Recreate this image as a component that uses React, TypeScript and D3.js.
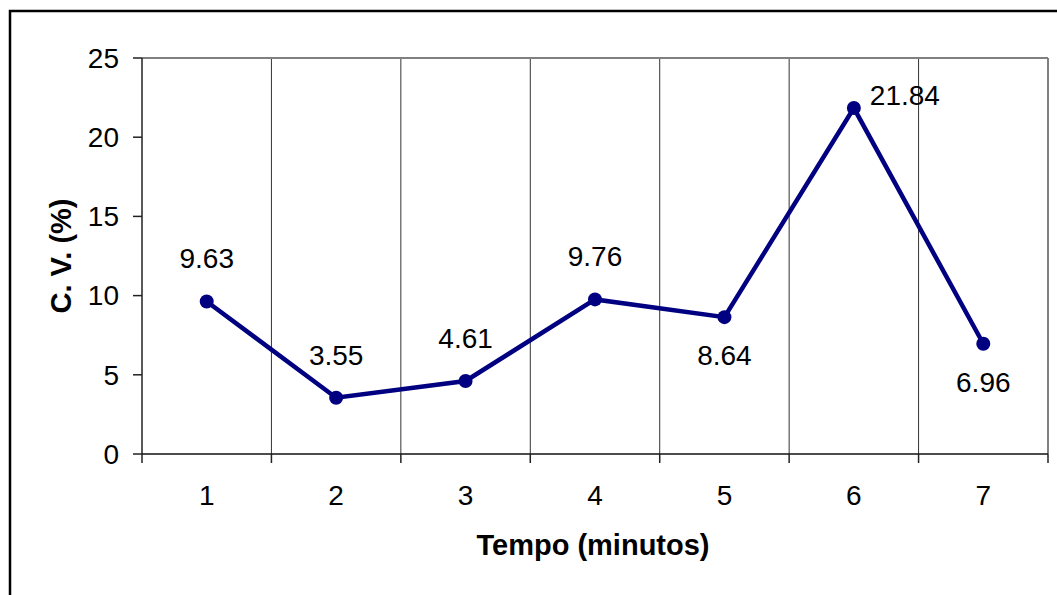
import { useEffect, useRef } from 'react';
import * as d3 from 'd3';

// dados
const minutos = ['1', '2', '3', '4', '5', '6', '7'];
const cv = [9.63, 3.55, 4.61, 9.76, 8.64, 21.84, 6.96];
const labelPos = ['above', 'above', 'above', 'above', 'below', 'right', 'below'];
const yTicks = [0, 5, 10, 15, 20, 25];

const width = 1057;
const height = 595;
const margin = { top: 58, right: 9, bottom: 141, left: 142 };
const FONT = 'Arial, "Liberation Sans", sans-serif';

export default function App() {
  const svgRef = useRef<SVGSVGElement>(null);

  useEffect(() => {
    if (!svgRef.current) return;
    const svg = d3.select(svgRef.current);
    svg.selectAll('*').remove();

    const innerW = width - margin.left - margin.right;
    const innerH = height - margin.top - margin.bottom;

    const x = d3.scaleBand().domain(minutos).range([0, innerW]).padding(0);
    const y = d3.scaleLinear().domain([0, 25]).range([innerH, 0]);

    // moldura externa (continua fora da imagem)
    svg.append('rect')
      .attr('x', 10).attr('y', 11)
      .attr('width', 1200).attr('height', 800)
      .attr('fill', '#fff')
      .attr('stroke', '#000')
      .attr('stroke-width', 2.5);

    const g = svg.append('g').attr('transform', `translate(${margin.left},${margin.top})`);

    // linhas de grade verticais nos limites das categorias
    minutos.slice(1).forEach(c => {
      g.append('line')
        .attr('x1', x(c)!).attr('x2', x(c)!)
        .attr('y1', 0).attr('y2', innerH)
        .attr('stroke', '#333').attr('stroke-width', 1);
    });

    // borda da área de plotagem (topo e direita)
    g.append('line')
      .attr('x1', 0).attr('x2', innerW).attr('y1', 0).attr('y2', 0)
      .attr('stroke', '#808080').attr('stroke-width', 2);
    g.append('line')
      .attr('x1', innerW).attr('x2', innerW).attr('y1', 0).attr('y2', innerH)
      .attr('stroke', '#808080').attr('stroke-width', 2);

    // eixo Y
    g.append('line')
      .attr('x1', 0).attr('x2', 0).attr('y1', 0).attr('y2', innerH + 9)
      .attr('stroke', '#222').attr('stroke-width', 1.5);
    yTicks.forEach(t => {
      g.append('line')
        .attr('x1', -9).attr('x2', 0).attr('y1', y(t)).attr('y2', y(t))
        .attr('stroke', '#222').attr('stroke-width', 1.5);
      g.append('text')
        .attr('x', -23).attr('y', y(t)).attr('dy', '0.35em')
        .attr('text-anchor', 'end')
        .style('font-family', FONT).style('font-size', '28px')
        .text(t);
    });

    // eixo X
    g.append('line')
      .attr('x1', 0).attr('x2', innerW).attr('y1', innerH).attr('y2', innerH)
      .attr('stroke', '#111').attr('stroke-width', 1.5);
    [...minutos.slice(1).map(c => x(c)!), innerW].forEach(px => {
      g.append('line')
        .attr('x1', px).attr('x2', px).attr('y1', innerH).attr('y2', innerH + 9)
        .attr('stroke', '#222').attr('stroke-width', 1.5);
    });
    minutos.forEach(c => {
      g.append('text')
        .attr('x', x(c)! + x.bandwidth() / 2).attr('y', innerH + 51)
        .attr('text-anchor', 'middle')
        .style('font-family', FONT).style('font-size', '28px')
        .text(c);
    });

    // títulos
    g.append('text')
      .attr('x', innerW / 2 - 2).attr('y', innerH + 101)
      .attr('text-anchor', 'middle')
      .style('font-family', FONT).style('font-size', '29px').style('font-weight', 'bold')
      .text('Tempo (minutos)');
    g.append('text')
      .attr('transform', `translate(${-71},${innerH / 2}) rotate(-90)`)
      .attr('text-anchor', 'middle')
      .style('font-family', FONT).style('font-size', '29px').style('font-weight', 'bold')
      .text('C. V. (%)');

    // série
    const cx = (i: number) => x(minutos[i])! + x.bandwidth() / 2;
    const line = d3.line<number>().x((_, i) => cx(i)).y(d => y(d));
    g.append('path')
      .datum(cv)
      .attr('fill', 'none')
      .attr('stroke', '#000080')
      .attr('stroke-width', 4.5)
      .attr('d', line);

    g.selectAll('circle.pt')
      .data(cv)
      .enter().append('circle')
      .attr('class', 'pt')
      .attr('cx', (_, i) => cx(i))
      .attr('cy', d => y(d))
      .attr('r', 7)
      .attr('fill', '#000080');

    // rótulos de dados
    cv.forEach((v, i) => {
      const pos = labelPos[i];
      let lx = cx(i);
      let ly = y(v) - 33;
      let anchor = 'middle';
      if (pos === 'below') ly = y(v) + 48;
      if (pos === 'right') { lx = cx(i) + 16; ly = y(v) - 3; anchor = 'start'; }
      g.append('text')
        .attr('x', lx).attr('y', ly)
        .attr('text-anchor', anchor)
        .style('font-family', FONT).style('font-size', '28px')
        .text(v.toFixed(2));
    });
  }, []);

  return (
    <svg
      ref={svgRef}
      width={width}
      height={height}
      style={{ position: 'absolute', left: 0, top: 0, background: '#fff' }}
    />
  );
}
